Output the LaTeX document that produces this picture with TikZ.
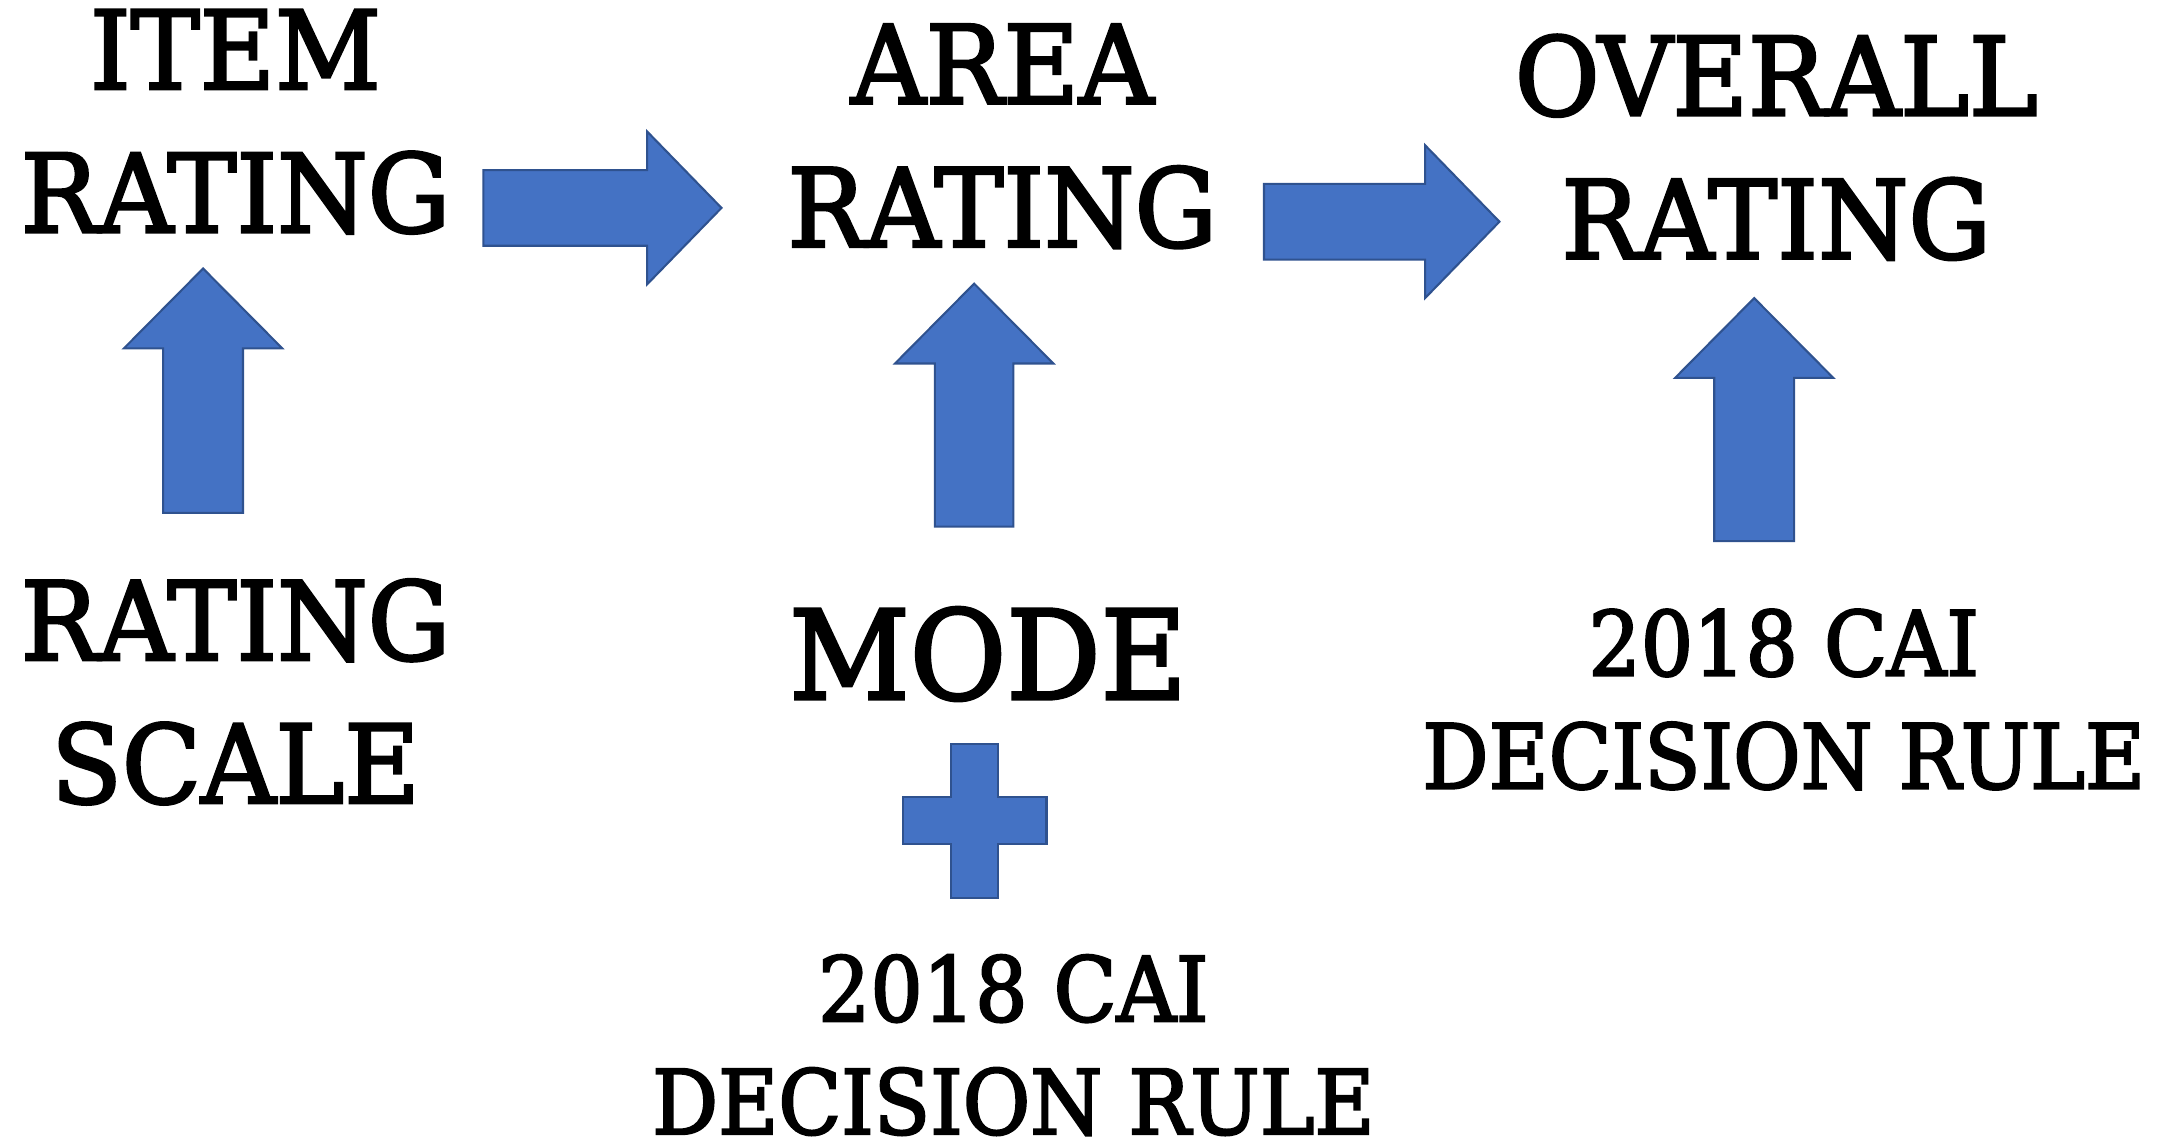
\documentclass[tikz,border=0pt]{standalone}
\usepackage{fontspec}
\newfontfamily\slabfont[FakeStretch=0.95, FakeBold=2.5]{DejaVu Serif}
\newfontfamily\slabnarrow[FakeStretch=0.92, FakeBold=2.5]{DejaVu Serif}
\definecolor{arrowblue}{RGB}{68,114,196}
\definecolor{arrowedge}{RGB}{47,82,143}
\tikzstyle{ratingtext} = [align=center, inner sep=0pt, font=\slabfont\fontsize{79}{104}\selectfont]
\tikzstyle{modetext} = [align=center, inner sep=0pt, font=\slabfont\fontsize{90}{104}\selectfont]
\tikzstyle{basistext} = [align=center, inner sep=0pt, font=\slabnarrow\fontsize{65}{82}\selectfont]
\tikzstyle{blockarrow} = [draw=arrowedge, fill=arrowblue, line width=1.5pt]

\begin{document}
\begin{tikzpicture}[x=1pt, y=-1pt]
      \useasboundingbox (0,0) rectangle (1568,832);
      \node [ratingtext] (item) at (171, 88.4) {ITEM\\RATING};
      \node [ratingtext] (area) at (728, 99) {AREA\\RATING};
      \node [ratingtext] (overall) at (1290, 107) {OVERALL\\RATING};
      \node [ratingtext] (scale) at (171, 502.5) {RATING\\SCALE};
      \node [modetext] (mode) at (717.5, 475) {MODE};
      \node [basistext] (ruleA) at (736, 759) {2018 CAI\\DECISION RULE};
      \node [basistext] (ruleB) at (1295.5, 508) {2018 CAI\\DECISION RULE};
      \path [blockarrow] (351,123.5) -- (470,123.5) -- (470,95.5) -- (524,151)
            -- (470,206.5) -- (470,178.5) -- (351,178.5) -- cycle;
      \path [blockarrow] (918,133.5) -- (1035,133.5) -- (1035,105.5) -- (1089,161)
            -- (1035,216.5) -- (1035,188.5) -- (918,188.5) -- cycle;
      \path [blockarrow] (118.5,372.5) -- (118.5,253) -- (90,253) -- (147.5,195)
            -- (205,253) -- (176.5,253) -- (176.5,372.5) -- cycle;
      \path [blockarrow] (679,382.5) -- (679,264) -- (650,264) -- (707.5,206)
            -- (765,264) -- (736,264) -- (736,382.5) -- cycle;
      \path [blockarrow] (1245,393) -- (1245,274.5) -- (1216.5,274.5) -- (1274,216.5)
            -- (1331.5,274.5) -- (1303,274.5) -- (1303,393) -- cycle;
      \path [blockarrow] (691,540) -- (725,540) -- (725,579) -- (760,579) -- (760,613)
            -- (725,613) -- (725,652) -- (691,652) -- (691,613) -- (656,613)
            -- (656,579) -- (691,579) -- cycle;
  \end{tikzpicture}
\end{document}
